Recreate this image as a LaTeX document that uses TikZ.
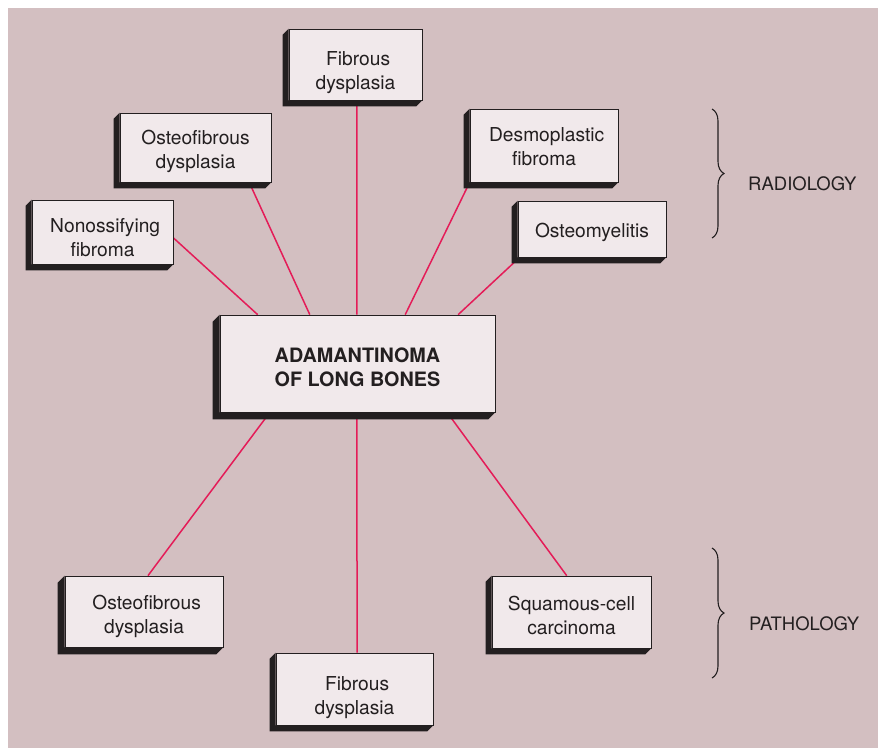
\documentclass[tikz,border=0pt]{standalone}
\usepackage{fontspec}
\setmainfont{TeX Gyre Heros}
\usetikzlibrary{calc,decorations.pathreplacing}
\definecolor{panel}{RGB}{211,191,193}
\definecolor{face}{RGB}{241,233,235}
\definecolor{edgedark}{RGB}{35,31,32}
\definecolor{link}{RGB}{228,28,88}
\pgfdeclarelayer{bgpanel}
\pgfdeclarelayer{shadows}
\pgfsetlayers{bgpanel,shadows,main}
% strut that lowers the text block a little inside each box
\newcommand\toplift[1][22]{\rule{0pt}{#1pt}}
\tikzset{
  entity/.style={draw=edgedark, line width=0.7pt, fill=face, inner sep=0pt,
    align=center, font=\fontsize{19.2}{24}\selectfont, text=edgedark},
  core/.style={entity, font=\fontsize{19.8}{24}\selectfont\bfseries},
  spoke/.style={draw=link, line width=1.5pt},
  group/.style={draw=edgedark, line width=1.1pt, decorate,
    decoration={brace, amplitude=12pt, aspect=0.5}},
  grouplabel/.style={font=\fontsize{18.5}{22}\selectfont, text=edgedark, anchor=west, inner sep=0pt}
}
\begin{document}
\begin{tikzpicture}[x=1pt, y=-1pt]
\useasboundingbox (0,0) rectangle (878,748);

% boxes
\node[core, minimum width=275pt, minimum height=97pt] (c) at (357.5,363.5) {\toplift ADAMANTINOMA\\OF LONG BONES};
\node[entity, minimum width=133pt, minimum height=71pt] (fibT) at (355.5,64.5) {\toplift[30] Fibrous\\dysplasia};
\node[entity, minimum width=151pt, minimum height=69pt] (ostT) at (195.5,147.5) {\toplift Osteofibrous\\dysplasia};
\node[entity, minimum width=141pt, minimum height=64pt] (non) at (102.5,232) {\toplift[25] Nonossifying\\fibroma};
\node[entity, minimum width=148pt, minimum height=73pt] (des) at (544,145.5) {\toplift[16] Desmoplastic\\fibroma};
\node[entity, minimum width=148pt, minimum height=56pt] (osm) at (592,229) {\toplift Osteomyelitis};
\node[entity, minimum width=158pt, minimum height=71pt] (ostB) at (144,611.5) {\toplift[24] Osteofibrous\\dysplasia};
\node[entity, minimum width=157pt, minimum height=72pt] (fibB) at (354.5,689) {\toplift[31] Fibrous\\dysplasia};
\node[entity, minimum width=159pt, minimum height=72pt] (sqc) at (571.5,612) {\toplift Squamous-cell\\carcinoma};

% group braces and labels
\coordinate (radTop) at (712,109);
\coordinate (radBot) at (712,238);
\coordinate (patTop) at (712,548);
\coordinate (patBot) at (712,678);
\draw[group] (radTop) -- (radBot);
\draw[group] (patTop) -- (patBot);
\node[grouplabel] (rad) at (748,184) {RADIOLOGY};
\node[grouplabel] (pat) at (749,624) {PATHOLOGY};

\begin{pgfonlayer}{bgpanel}
  \fill[panel] (8,8) rectangle (878,748);
\end{pgfonlayer}

\begin{pgfonlayer}{shadows}
  % connectors from the central box
  \draw[spoke] ($(c.north west)!0.138!(c.north east)$) -- ($(non.north east)!0.59!(non.south east)$);
  \draw[spoke] ($(c.north west)!0.327!(c.north east)$) -- ($(ostT.south west)!0.854!(ostT.south east)$);
  \draw[spoke] ($(c.north west)!0.498!(c.north east)$) -- ($(fibT.south west)!0.51!(fibT.south east)$);
  \draw[spoke] ($(c.north west)!0.673!(c.north east)$) -- (des.south west);
  \draw[spoke] ($(c.north west)!0.865!(c.north east)$) -- ($(osm.south west)+(2,0)$);
  \draw[spoke] ($(c.south west)!0.182!(c.south east)$) -- ($(ostB.north west)!0.525!(ostB.north east)$);
  \draw[spoke] ($(c.south west)!0.498!(c.south east)$) -- ($(fibB.north west)!0.516!(fibB.north east)$);
  \draw[spoke] ($(c.south west)!0.825!(c.south east)$) -- ($(sqc.north west)!0.47!(sqc.north east)$);
  % extruded dark edges on the left and bottom of every box
  \foreach \n/\d in {c/7,fibT/6,ostT/6,non/6,des/6,osm/6,ostB/7,fibB/6,sqc/6}{
    \fill[edgedark] (\n.north west) -- ++(-\d,\d) |- ($(\n.south east)+(-\d,\d)$)
      -- (\n.south east) -- (\n.south west) -- cycle;
  }
\end{pgfonlayer}
\end{tikzpicture}
\end{document}
